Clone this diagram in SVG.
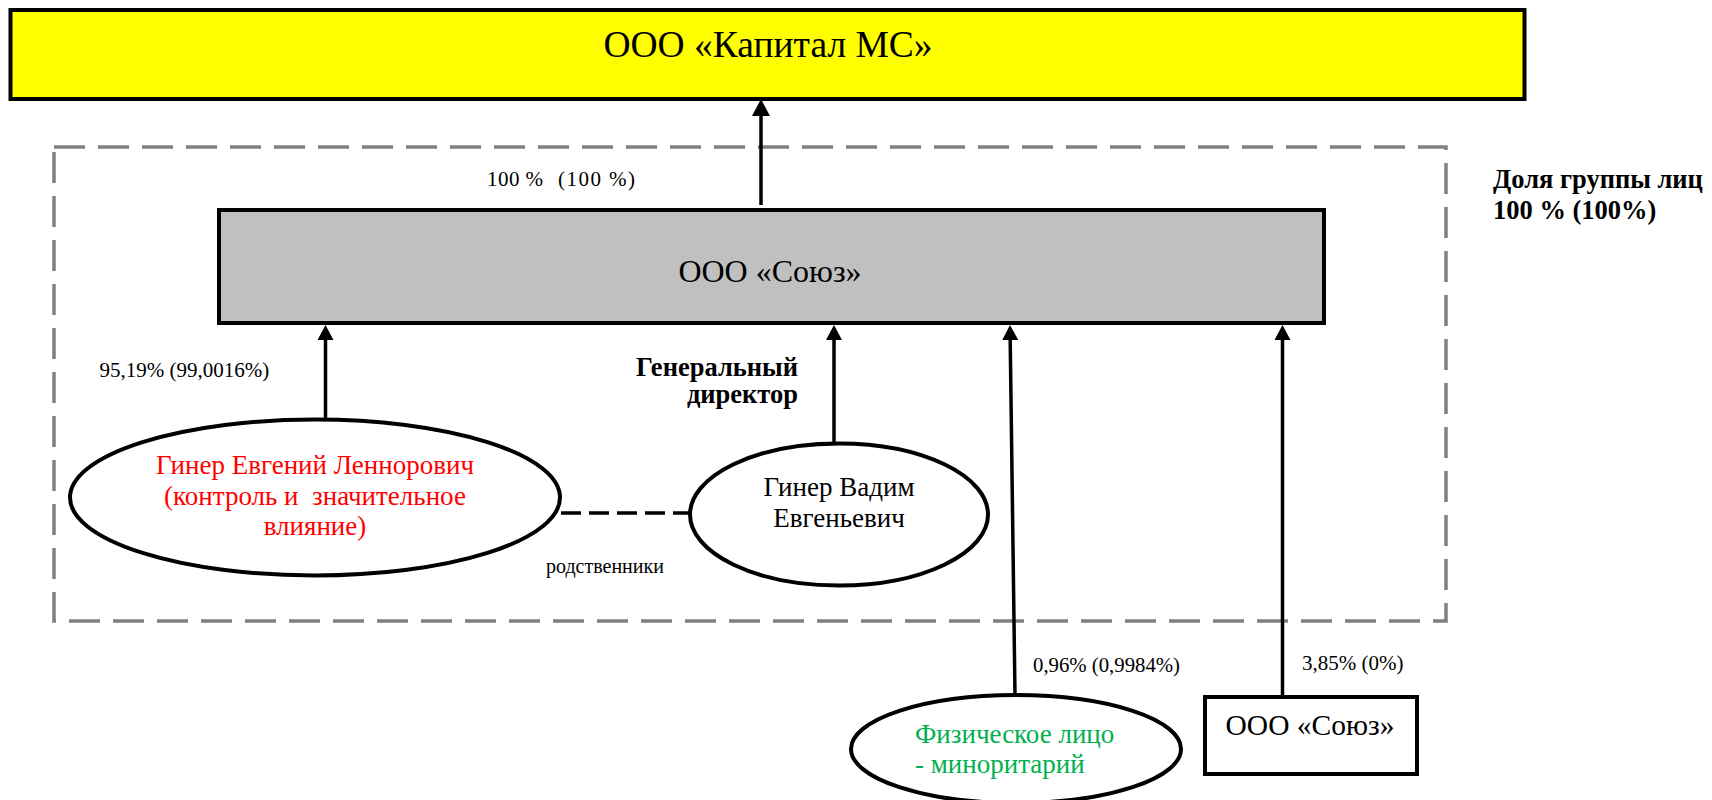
<svg xmlns="http://www.w3.org/2000/svg" width="1712" height="800" viewBox="0 0 1712 800" font-family="'Liberation Serif','Times New Roman',serif">
<style>
text{font-family:"Liberation Serif","Times New Roman",serif;fill:#000;white-space:pre}
.node{stroke:#000;stroke-width:4}
.lbl{font-size:21px}
.big{font-size:27px}
.bold{font-weight:bold;font-size:26.5px}
.conn{stroke:#000;stroke-width:3.5;fill:none}
</style>
<defs>
<marker id="ah" markerUnits="userSpaceOnUse" viewBox="0 0 15 16" refX="0" refY="8" markerWidth="15" markerHeight="16" orient="auto">
<path d="M0,0 L15,8 L0,16 z" fill="#000"/>
</marker>
<marker id="ahBig" markerUnits="userSpaceOnUse" viewBox="0 0 17 18" refX="0" refY="9" markerWidth="17" markerHeight="18" orient="auto">
<path d="M0,0 L17,9 L0,18 z" fill="#000"/>
</marker>
</defs>
<rect width="1712" height="800" fill="#fff"/>
<g id="group-box">
<rect x="54" y="147" width="1392" height="474" fill="none" stroke="#808080" stroke-width="3.5" stroke-dasharray="31 13"/>
</g>
<g id="connectors">
<line class="conn" x1="761" y1="205" x2="761" y2="116" stroke-width="5" marker-end="url(#ahBig)"/>
<line class="conn" x1="325.5" y1="418" x2="325.5" y2="340" marker-end="url(#ah)"/>
<line class="conn" x1="834" y1="442" x2="834" y2="340" marker-end="url(#ah)"/>
<line class="conn" x1="1015" y1="695" x2="1010.2" y2="340" marker-end="url(#ah)"/>
<line class="conn" x1="1282.5" y1="695" x2="1282.5" y2="340" marker-end="url(#ah)"/>
<line class="conn" x1="561" y1="513" x2="689" y2="513" stroke-width="4" stroke-dasharray="20 8"/>
</g>
<g id="kapital">
<rect class="node" x="10.5" y="10" width="1514" height="89" fill="#FFFF00"/>
<text x="768" y="57" font-size="37.5" style="font-size:37.5px" text-anchor="middle">ООО «Капитал МС»</text>
</g>
<g id="soyuz">
<rect class="node" x="219" y="210" width="1105" height="113" fill="#C0C0C0"/>
<text x="770" y="282" style="font-size:32px" text-anchor="middle">ООО «Союз»</text>
</g>
<g id="giner-e">
<ellipse class="node" cx="315" cy="497.5" rx="245" ry="78" fill="#fff"/>
<text class="big" text-anchor="middle" style="fill:#FF0000"><tspan x="315" y="474">Гинер Евгений Леннорович</tspan><tspan x="315" y="505">(контроль и  значительное</tspan><tspan x="315" y="535">влияние)</tspan></text>
</g>
<g id="giner-v">
<ellipse class="node" cx="839" cy="514.5" rx="149" ry="71" fill="#fff"/>
<text class="big" text-anchor="middle"><tspan x="839" y="496">Гинер Вадим</tspan><tspan x="839" y="527">Евгеньевич</tspan></text>
</g>
<g id="minor">
<ellipse class="node" cx="1016" cy="749" rx="165" ry="54" fill="#fff"/>
<text class="big" style="fill:#00B050"><tspan x="915" y="743">Физическое лицо</tspan><tspan x="915" y="773">- миноритарий</tspan></text>
</g>
<g id="soyuz2">
<rect class="node" x="1205" y="697" width="212" height="77" fill="#fff"/>
<text x="1310" y="735" style="font-size:29.5px" text-anchor="middle">ООО «Союз»</text>
</g>
<g id="labels">
<text class="lbl" y="186"><tspan x="487" textLength="56" lengthAdjust="spacing">100 %</tspan><tspan x="558" textLength="77" lengthAdjust="spacing">(100 %)</tspan></text>
<text class="lbl" x="99.5" y="377">95,19% (99,0016%)</text>
<text class="lbl" x="1033" y="672" style="font-size:20px" textLength="147" lengthAdjust="spacingAndGlyphs">0,96% (0,9984%)</text>
<text class="lbl" x="1302" y="670">3,85% (0%)</text>
<text x="546" y="573" style="font-size:20px">родственники</text>
<text class="bold" text-anchor="end"><tspan x="798" y="376">Генеральный</tspan><tspan x="798" y="403">директор</tspan></text>
<text class="bold"><tspan x="1493" y="188">Доля группы лиц</tspan><tspan x="1493" y="219">100 % (100%)</tspan></text>
</g>
</svg>
